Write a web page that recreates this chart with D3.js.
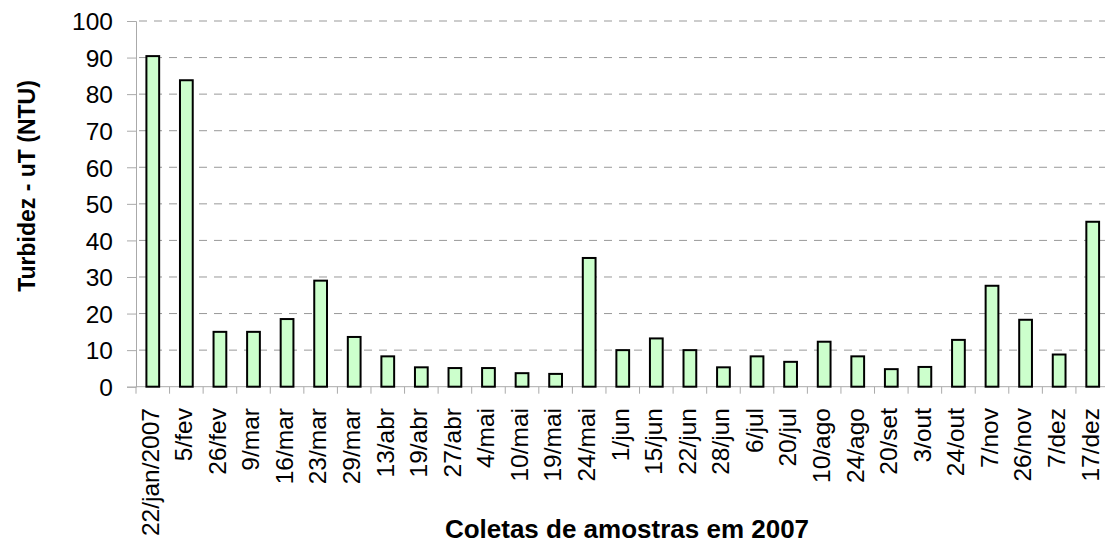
<!DOCTYPE html>
<html>
<head>
<meta charset="utf-8">
<script src="https://cdn.jsdelivr.net/npm/d3@7"></script>
<style>
  body { margin: 0; background: #fff; }
  svg text { font-family: "Liberation Sans", Arial, sans-serif; fill: #000; }
</style>
</head>
<body>
<svg id="chart" width="1105" height="546"></svg>
<script>
// datas das coletas e turbidez
var coletas = ['22/jan/2007','5/fev','26/fev','9/mar','16/mar','23/mar','29/mar','13/abr','19/abr','27/abr',
               '4/mai','10/mai','19/mai','24/mai','1/jun','15/jun','22/jun','28/jun','6/jul','20/jul',
               '10/ago','24/ago','20/set','3/out','24/out','7/nov','26/nov','7/dez','17/dez'];
var turbidez = [90.4, 83.8, 15.0, 15.0, 18.5, 29.0, 13.6, 8.3, 5.3, 5.1,
                5.1, 3.7, 3.5, 35.2, 10.0, 13.2, 10.0, 5.3, 8.3, 6.8,
                12.3, 8.3, 4.8, 5.4, 12.8, 27.6, 18.3, 8.8, 45.1];
var yTicks = [0,10,20,30,40,50,60,70,80,90,100];
var yTitle = 'Turbidez - uT (NTU)';
var xTitle = 'Coletas de amostras em 2007';

var svg = d3.select('#chart');
var plotL = 136, plotR = 1109.5, plotT = 21, plotB = 386.7;

var x = d3.scaleBand().domain(coletas).range([plotL, plotR]).paddingInner(0.62).paddingOuter(0.31);
var y = d3.scaleLinear().domain([0, 100]).range([plotB, plotT]);

// grade
svg.append('g').selectAll('line')
  .data(yTicks.filter(function(d){ return d > 0; }))
  .enter().append('line')
  .attr('x1', plotL + 1).attr('x2', 1105)
  .attr('y1', function(d){ return y(d); }).attr('y2', function(d){ return y(d); })
  .attr('stroke', '#999').attr('stroke-width', 1)
  .attr('stroke-dasharray', '8,7').attr('stroke-dashoffset', -2);

// eixo Y
var yAxis = svg.append('g').attr('transform', 'translate(' + plotL + ',0)')
  .call(d3.axisLeft(y).tickValues(yTicks).tickSize(9).tickPadding(14));
yAxis.select('.domain').attr('stroke', '#aaa');
yAxis.selectAll('.tick line').attr('stroke', '#aaa');
yAxis.selectAll('.tick text')
  .style('font-size', '24.5px').style('font-family', '"Liberation Sans", Arial, sans-serif')
  .attr('fill', '#000').attr('dy', '0.36em');

// eixo X
var xTickPos = coletas.map(function(d){ return x(d) - x.step() * x.paddingInner() / 2; });
svg.append('g').selectAll('line')
  .data(xTickPos)
  .enter().append('line')
  .attr('x1', function(d){ return d; }).attr('x2', function(d){ return d; })
  .attr('y1', plotB).attr('y2', plotB + 7)
  .attr('stroke', '#aaa');
svg.append('line')
  .attr('x1', plotL).attr('x2', 1105).attr('y1', plotB).attr('y2', plotB)
  .attr('stroke', '#aaa');

// barras
svg.append('g').selectAll('rect')
  .data(turbidez)
  .enter().append('rect')
  .attr('x', function(d, i){ return x(coletas[i]); })
  .attr('width', x.bandwidth())
  .attr('y', function(d){ return y(d); })
  .attr('height', function(d){ return y(0) - y(d); })
  .attr('fill', '#ccffcc')
  .attr('stroke', '#000').attr('stroke-width', 2);

// rotulos X
svg.append('g').selectAll('text')
  .data(coletas)
  .enter().append('text')
  .attr('transform', function(d){ return 'translate(' + (x(d) + x.bandwidth() / 2 - 3) + ',408) rotate(-90)'; })
  .attr('text-anchor', 'end')
  .attr('dy', '0.36em')
  .style('font-size', '24.5px')
  .text(function(d){ return d; });

// titulos
svg.append('text')
  .attr('transform', 'translate(27,186) rotate(-90)')
  .attr('text-anchor', 'middle')
  .attr('dy', '0.36em')
  .style('font-size', '23px').style('font-weight', 'bold')
  .text(yTitle);

svg.append('text')
  .attr('x', 627).attr('y', 538)
  .attr('text-anchor', 'middle')
  .style('font-size', '26px').style('font-weight', 'bold')
  .text(xTitle);
</script>
</body>
</html>
